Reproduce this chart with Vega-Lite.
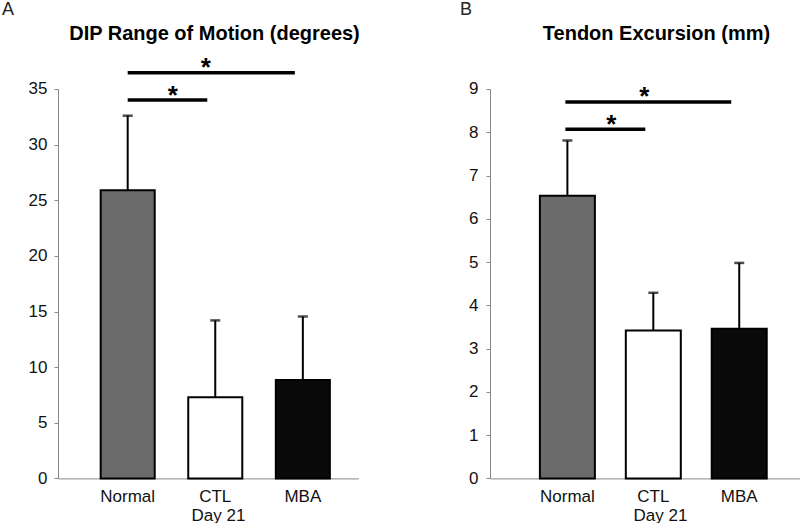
{
  "$schema": "https://vega.github.io/schema/vega-lite/v6.json",
  "background": "white",
  "padding": {"left": 2, "top": 0, "right": 0, "bottom": 0},
  "bounds": "flush",
  "spacing": 131,
  "config": {"view": {"stroke": null}, "font": "Liberation Sans"},
  "datasets": {
    "dip": [
      {"group": "Normal", "mean": 25.9, "upper": 32.6},
      {"group": "CTL", "mean": 7.3, "upper": 14.2},
      {"group": "MBA", "mean": 8.85, "upper": 14.55}
    ],
    "tendon": [
      {"group": "Normal", "mean": 6.53, "upper": 7.81},
      {"group": "CTL", "mean": 3.42, "upper": 4.29},
      {"group": "MBA", "mean": 3.46, "upper": 4.98}
    ],
    "dipSig": [
      {"from": "Normal", "to": "CTL", "y": 34.0, "label": "*"},
      {"from": "Normal", "to": "MBA", "y": 36.45, "label": "*"}
    ],
    "tendonSig": [
      {"from": "Normal", "to": "CTL", "y": 8.07, "label": "*"},
      {"from": "Normal", "to": "MBA", "y": 8.7, "label": "*"}
    ]
  },
  "hconcat": [
    {
      "width": 300.3,
      "height": 389.4,
      "title": {"text": "A", "anchor": "start", "frame": "group", "dx": -56, "offset": 5, "fontSize": 18, "fontWeight": "normal", "color": "#222", "font": "Liberation Sans"},
      "layer": [
        {
          "data": {"name": "dip"},
          "mark": {"type": "rule", "color": "black", "strokeWidth": 2},
          "encoding": {
            "x": {"field": "group", "type": "nominal", "title": "Day 21",
              "scale": {"domain": ["Normal", "CTL", "MBA"], "type": "band", "paddingInner": 0.383, "paddingOuter": 0.406, "align": 0.6},
              "axis": {"labelAngle": 0, "ticks": false, "tickSize": 0, "labelPadding": 10, "domainColor": "#888", "domainWidth": 1, "labelFontSize": 17, "labelColor": "#111", "labelFont": "Liberation Sans", "titleX": 160, "titleFontWeight": "normal", "titleFontSize": 17, "titleColor": "#111", "titleFont": "Liberation Sans", "titlePadding": 3}},
            "y": {"field": "mean", "type": "quantitative", "title": "DIP Range of Motion (degrees)",
              "scale": {"domain": [0, 35], "nice": false},
              "axis": {"values": [0, 5, 10, 15, 20, 25, 30, 35], "grid": false, "domainColor": "#888", "tickColor": "#888", "tickSize": 4, "labelPadding": 7, "labelFontSize": 17, "labelColor": "#111", "labelFont": "Liberation Sans", "titleAngle": 0, "titleX": 156, "titleY": -49.3, "titleAlign": "center", "titleBaseline": "alphabetic", "titleFontSize": 20, "titleFontWeight": "bold", "titleColor": "#000", "titleFont": "Liberation Sans"}},
            "y2": {"field": "upper"}
          }
        },
        {
          "data": {"name": "dip"},
          "mark": {"type": "tick", "orient": "horizontal", "color": "black", "size": 10, "thickness": 2.5},
          "encoding": {
            "x": {"field": "group", "type": "nominal", "title": "Day 21"},
            "y": {"field": "upper", "type": "quantitative", "title": "DIP Range of Motion (degrees)"}
          }
        },
        {
          "data": {"name": "dip"},
          "mark": {"type": "bar", "stroke": "black", "strokeWidth": 2},
          "encoding": {
            "x": {"field": "group", "type": "nominal", "title": "Day 21"},
            "y": {"field": "mean", "type": "quantitative", "title": "DIP Range of Motion (degrees)"},
            "fill": {"field": "group", "type": "nominal", "scale": {"domain": ["Normal", "CTL", "MBA"], "range": ["#6b6b6b", "#ffffff", "#0a0a0a"]}, "legend": null}
          }
        },
        {
          "data": {"name": "dipSig"},
          "mark": {"type": "rule", "color": "black", "strokeWidth": 3.5, "x2Offset": -8},
          "encoding": {
            "x": {"field": "from", "type": "nominal", "title": "Day 21"},
            "x2": {"field": "to"},
            "y": {"field": "y", "type": "quantitative", "title": "DIP Range of Motion (degrees)"}
          }
        },
        {
          "data": {"name": "dipSig"},
          "transform": [{"filter": "datum.to == 'CTL'"}],
          "mark": {"type": "text", "fontSize": 26, "fontWeight": "bold", "color": "black", "dx": 45, "dy": 4, "baseline": "alphabetic", "align": "center", "font": "Liberation Sans"},
          "encoding": {
            "x": {"field": "from", "type": "nominal", "title": "Day 21"},
            "y": {"field": "y", "type": "quantitative", "title": "DIP Range of Motion (degrees)"},
            "text": {"field": "label"}
          }
        },
        {
          "data": {"name": "dipSig"},
          "transform": [{"filter": "datum.to == 'MBA'"}],
          "mark": {"type": "text", "fontSize": 26, "fontWeight": "bold", "color": "black", "dx": 78, "dy": 3, "baseline": "alphabetic", "align": "center", "font": "Liberation Sans"},
          "encoding": {
            "x": {"field": "from", "type": "nominal", "title": "Day 21"},
            "y": {"field": "y", "type": "quantitative", "title": "DIP Range of Motion (degrees)"},
            "text": {"field": "label"}
          }
        }
      ]
    },
    {
      "width": 310.7,
      "height": 389.4,
      "title": {"text": "B", "anchor": "start", "frame": "group", "dx": -30, "offset": 5, "fontSize": 18, "fontWeight": "normal", "color": "#222", "font": "Liberation Sans"},
      "layer": [
        {
          "data": {"name": "tendon"},
          "mark": {"type": "rule", "color": "black", "strokeWidth": 2},
          "encoding": {
            "x": {"field": "group", "type": "nominal", "title": "Day 21",
              "scale": {"domain": ["Normal", "CTL", "MBA"], "type": "band", "paddingInner": 0.36, "paddingOuter": 0.488, "align": 0.595},
              "axis": {"labelAngle": 0, "ticks": false, "tickSize": 0, "labelPadding": 10, "domainColor": "#888", "domainWidth": 1, "labelFontSize": 17, "labelColor": "#111", "labelFont": "Liberation Sans", "titleX": 170, "titleFontWeight": "normal", "titleFontSize": 17, "titleColor": "#111", "titleFont": "Liberation Sans", "titlePadding": 3}},
            "y": {"field": "mean", "type": "quantitative", "title": "Tendon Excursion (mm)",
              "scale": {"domain": [0, 9], "nice": false},
              "axis": {"values": [0, 1, 2, 3, 4, 5, 6, 7, 8, 9], "grid": false, "domainColor": "#888", "tickColor": "#888", "tickSize": 4, "labelPadding": 8, "labelFontSize": 17, "labelColor": "#111", "labelFont": "Liberation Sans", "titleAngle": 0, "titleX": 166, "titleY": -49.3, "titleAlign": "center", "titleBaseline": "alphabetic", "titleFontSize": 20, "titleFontWeight": "bold", "titleColor": "#000", "titleFont": "Liberation Sans"}},
            "y2": {"field": "upper"}
          }
        },
        {
          "data": {"name": "tendon"},
          "mark": {"type": "tick", "orient": "horizontal", "color": "black", "size": 10, "thickness": 2.5},
          "encoding": {
            "x": {"field": "group", "type": "nominal", "title": "Day 21"},
            "y": {"field": "upper", "type": "quantitative", "title": "Tendon Excursion (mm)"}
          }
        },
        {
          "data": {"name": "tendon"},
          "mark": {"type": "bar", "stroke": "black", "strokeWidth": 2},
          "encoding": {
            "x": {"field": "group", "type": "nominal", "title": "Day 21"},
            "y": {"field": "mean", "type": "quantitative", "title": "Tendon Excursion (mm)"},
            "fill": {"field": "group", "type": "nominal", "scale": {"domain": ["Normal", "CTL", "MBA"], "range": ["#6b6b6b", "#ffffff", "#0a0a0a"]}, "legend": null}
          }
        },
        {
          "data": {"name": "tendonSig"},
          "mark": {"type": "rule", "color": "black", "strokeWidth": 3.5, "xOffset": -2, "x2Offset": -8},
          "encoding": {
            "x": {"field": "from", "type": "nominal", "title": "Day 21"},
            "x2": {"field": "to"},
            "y": {"field": "y", "type": "quantitative", "title": "Tendon Excursion (mm)"}
          }
        },
        {
          "data": {"name": "tendonSig"},
          "transform": [{"filter": "datum.to == 'CTL'"}],
          "mark": {"type": "text", "fontSize": 26, "fontWeight": "bold", "color": "black", "dx": 44, "dy": 4, "baseline": "alphabetic", "align": "center", "font": "Liberation Sans"},
          "encoding": {
            "x": {"field": "from", "type": "nominal", "title": "Day 21"},
            "y": {"field": "y", "type": "quantitative", "title": "Tendon Excursion (mm)"},
            "text": {"field": "label"}
          }
        },
        {
          "data": {"name": "tendonSig"},
          "transform": [{"filter": "datum.to == 'MBA'"}],
          "mark": {"type": "text", "fontSize": 26, "fontWeight": "bold", "color": "black", "dx": 77, "dy": 3, "baseline": "alphabetic", "align": "center", "font": "Liberation Sans"},
          "encoding": {
            "x": {"field": "from", "type": "nominal", "title": "Day 21"},
            "y": {"field": "y", "type": "quantitative", "title": "Tendon Excursion (mm)"},
            "text": {"field": "label"}
          }
        }
      ]
    }
  ]
}
